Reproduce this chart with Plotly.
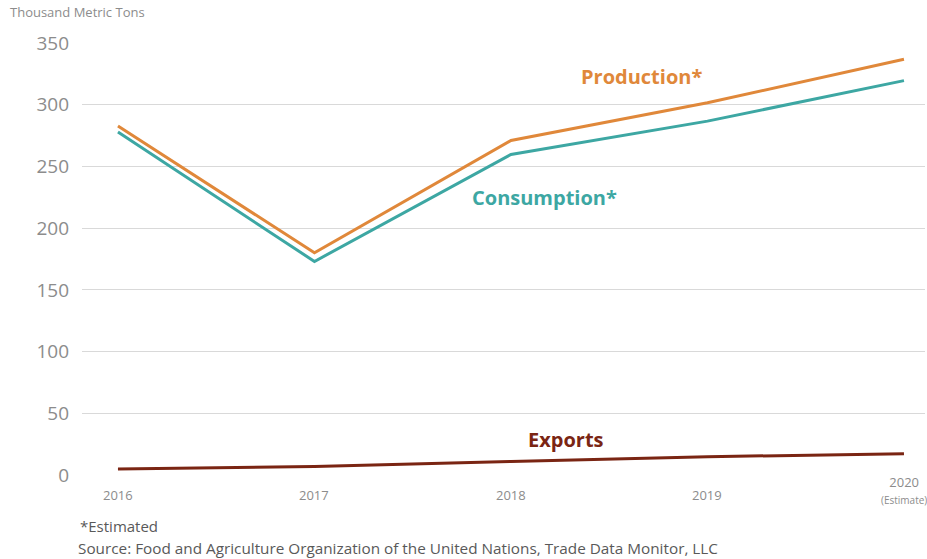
import plotly.graph_objects as go

years = [2016, 2017, 2018, 2019, 2020]
year_labels = ["2016", "2017", "2018", "2019", "2020"]
production = [282.7, 180.0, 271.0, 301.6, 336.8]
consumption = [277.8, 173.0, 259.7, 286.7, 319.5]
exports = [4.8, 6.8, 11.0, 14.8, 17.3]
y_ticks = [0, 50, 100, 150, 200, 250, 300, 350]

C_PROD = "#E0883A"
C_CONS = "#3DA7A3"
C_EXP = "#7A2513"
GRAY = "#8C8C8C"
FONT = "Open Sans"

L, R, T, B = 82, 2, 43, 84
W, H = 927, 559

fig = go.Figure()
fig.add_trace(go.Scatter(x=years, y=exports, mode="lines", line=dict(color=C_EXP, width=3), name="Exports"))
fig.add_trace(go.Scatter(x=years, y=consumption, mode="lines", line=dict(color=C_CONS, width=3), name="Consumption*"))
fig.add_trace(go.Scatter(x=years, y=production, mode="lines", line=dict(color=C_PROD, width=3), name="Production*"))

fig.update_layout(
    width=W, height=H, autosize=False,
    margin=dict(l=L, r=R, t=T, b=B),
    plot_bgcolor="white", paper_bgcolor="white",
    showlegend=False,
    font=dict(family=FONT, color=GRAY),
    xaxis=dict(range=[2015.817, 2020.107], showgrid=False, zeroline=False,
               showticklabels=False, showline=False, fixedrange=True),
    yaxis=dict(range=[0, 350], tickvals=y_ticks, showgrid=True, gridcolor="#D9D9D9",
               gridwidth=1, zeroline=False, showline=False,
               tickfont=dict(size=19, color=GRAY, family=FONT), ticklabelstandoff=12),
)


def to_paper_x(px):
    return (px - L) / (W - L - R)


def to_paper_y(py):
    return (H - B - py) / (H - B - T)


# x-axis category labels
for yr, lab in zip(years, year_labels):
    if yr == 2020:
        fig.add_annotation(x=yr, y=0, xref="x", yref="y", yanchor="top", yshift=4,
                           text=lab + "<br><span style='font-size:10px'>(Estimate)</span>",
                           showarrow=False, font=dict(size=13, color=GRAY, family=FONT))
    else:
        fig.add_annotation(x=yr, y=0, xref="x", yref="y", yanchor="top", yshift=-9,
                           text=lab, showarrow=False,
                           font=dict(size=13, color=GRAY, family=FONT))

# series labels
fig.add_annotation(x=2018.662, y=323, xref="x", yref="y", text="<b>Production*</b>",
                   showarrow=False, font=dict(size=20, color=C_PROD, family=FONT))
fig.add_annotation(x=2018.173, y=224.8, xref="x", yref="y", text="<b>Consumption*</b>",
                   showarrow=False, font=dict(size=20, color=C_CONS, family=FONT))
fig.add_annotation(x=2018.28, y=28.4, xref="x", yref="y", text="<b>Exports</b>",
                   showarrow=False, font=dict(size=20, color=C_EXP, family=FONT))

# axis unit and footnotes
fig.add_annotation(x=to_paper_x(8), y=to_paper_y(12), xref="paper", yref="paper",
                   text="Thousand Metric Tons", showarrow=False,
                   xanchor="left", yanchor="middle",
                   font=dict(size=13, color=GRAY, family=FONT))
fig.add_annotation(x=to_paper_x(78), y=to_paper_y(526), xref="paper", yref="paper",
                   text="*Estimated", showarrow=False, xanchor="left", yanchor="middle",
                   font=dict(size=15, color="#595959", family=FONT))
fig.add_annotation(x=to_paper_x(76), y=to_paper_y(548), xref="paper", yref="paper",
                   text="Source: Food and Agriculture Organization of the United Nations, Trade Data Monitor, LLC",
                   showarrow=False, xanchor="left", yanchor="middle",
                   font=dict(size=15.3, color="#595959", family=FONT))

fig.write_html("out.html", config={"displayModeBar": False},
               post_script="document.body.style.margin='0';document.body.style.overflow='hidden';")
